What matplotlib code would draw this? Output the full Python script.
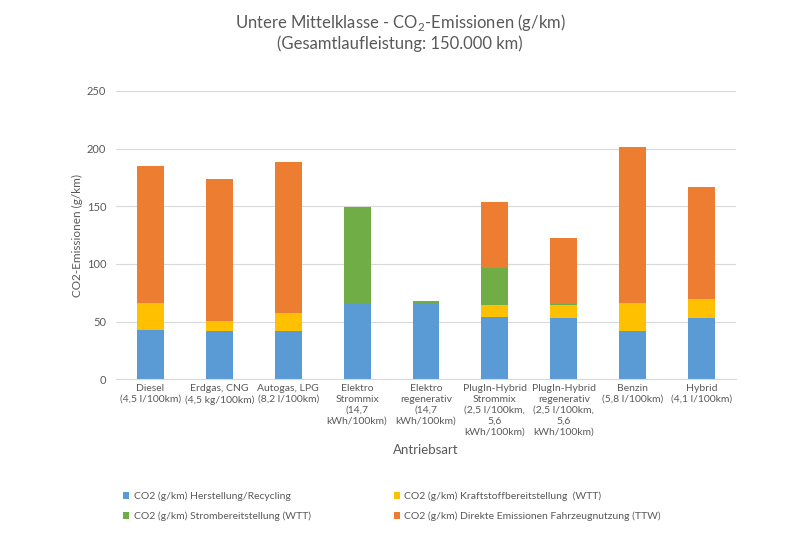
import numpy as np
import matplotlib
matplotlib.use('Agg')
import matplotlib.pyplot as plt

plt.rcParams['font.family'] = ['Lato', 'DejaVu Sans']
plt.rcParams['mathtext.fontset'] = 'custom'
plt.rcParams['mathtext.rm'] = 'Lato'

categories = ['Diesel\n(4,5 l/100km)', 'Erdgas, CNG\n(4,5 kg/100km)', 'Autogas, LPG\n(8,2 l/100km)',
              'Elektro\nStrommix\n(14,7\nkWh/100km)', 'Elektro\nregenerativ\n(14,7\nkWh/100km)',
              'PlugIn-Hybrid\nStrommix\n(2,5 l/100km,\n5,6\nkWh/100km)',
              'PlugIn-Hybrid\nregenerativ\n(2,5 l/100km,\n5,6\nkWh/100km)',
              'Benzin\n(5,8 l/100km)', 'Hybrid\n(4,1 l/100km)']

herstellung = [42.5, 42, 42, 65, 66, 54, 53.5, 42, 53.5]
kraftstoff = [23.5, 8.6, 15.5, 0, 0, 10.2, 11.0, 24, 16.5]
strom = [0, 0, 0, 84.7, 1.5, 32.6, 0.6, 0, 0]
direkt = [119, 123.4, 130.5, 0, 0, 57.2, 57.7, 135.3, 96.4]

labels = ['CO2 (g/km) Herstellung/Recycling', 'CO2 (g/km) Kraftstoffbereitstellung  (WTT)',
          'CO2 (g/km) Strombereitstellung (WTT)', 'CO2 (g/km) Direkte Emissionen Fahrzeugnutzung (TTW)']
colors = ['#5B9BD5', '#FFC000', '#70AD47', '#ED7D31']
txt = '#595959'

fig = plt.figure(figsize=(8, 5.34), dpi=100)
ax = fig.add_axes([0.145, 0.2897, 0.775, 0.5399])

x = np.arange(len(categories))
width = 0.39
bottom = np.zeros(len(categories))
bars = []
for vals, col, lab in zip([herstellung, kraftstoff, strom, direkt], colors, labels):
    b = ax.bar(x, vals, width, bottom=bottom, color=col, label=lab, zorder=2)
    bars.append(b)
    bottom += np.array(vals)

ax.set_xlim(-0.5, len(categories) - 0.5)
ax.set_ylim(0, 250)
ax.set_yticks(np.arange(0, 251, 50))
ax.yaxis.grid(True, color='#D9D9D9', linewidth=0.8, zorder=0)
for s in ['top', 'right', 'left']:
    ax.spines[s].set_visible(False)
ax.spines['bottom'].set_color('#D9D9D9')
ax.tick_params(axis='both', length=0, colors=txt, labelsize=8)
ax.tick_params(axis='y', pad=7)
ax.set_xticks(x)
ax.set_xticklabels(categories, fontsize=7.5, color=txt, linespacing=1.25)

ax.set_ylabel('CO2-Emissionen (g/km)', fontsize=8.5, color=txt, labelpad=3)
ax.set_xlabel('Antriebsart', fontsize=9.5, color=txt, labelpad=6)

fig.text(0.5, 0.958, 'Untere Mittelklasse - CO$_2$-Emissionen (g/km)', ha='center', va='center',
         fontsize=12, color=txt)
fig.text(0.5, 0.918, '(Gesamtlaufleistung: 150.000 km)', ha='center', va='center',
         fontsize=12, color=txt)

order = [0, 2, 1, 3]
fig.legend([bars[i] for i in order], [labels[i] for i in order], ncol=2, loc='center',
           bbox_to_anchor=(0.49, 0.052), frameon=False, fontsize=7.5, labelcolor=txt,
           handlelength=0.6, handleheight=0.6, handletextpad=0.4, columnspacing=8.0,
           labelspacing=1.0)

fig.savefig('out.png', dpi=100)
